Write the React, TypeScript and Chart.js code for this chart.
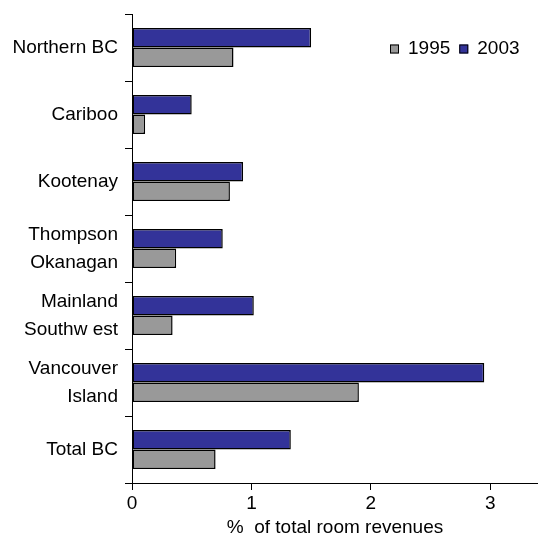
import React, { useEffect, useRef } from 'react';
import { Chart, registerables } from 'chart.js';

Chart.register(...registerables);

const categories: (string | string[])[] = [
  'Northern BC',
  'Cariboo',
  'Kootenay',
  ['Thompson', 'Okanagan'],
  ['Mainland', 'Southw est'],
  ['Vancouver', 'Island'],
  'Total BC',
];
const values1995 = [0.85, 0.11, 0.82, 0.37, 0.34, 1.9, 0.7];
const values2003 = [1.5, 0.5, 0.93, 0.76, 1.02, 2.95, 1.33];
const seriesNames = ['1995', '2003'];
const seriesColors = ['#999999', '#333399'];
const xTickValues = [0, 1, 2, 3];
const xMax = 3.4;
const axisTitle = '%  of total room revenues';

const FONT = '"Liberation Sans", Arial, sans-serif';

const legendPlugin = {
  id: 'insideLegend',
  afterDraw(chart: any) {
    const { ctx, chartArea } = chart;
    ctx.save();
    ctx.font = `19px ${FONT}`;
    ctx.textBaseline = 'middle';
    ctx.textAlign = 'left';
    let x = chartArea.right - 148;
    const cy = chartArea.top + 35;
    seriesNames.forEach((name, i) => {
      ctx.fillStyle = seriesColors[i];
      ctx.fillRect(x, cy - 4.5, 9, 9);
      ctx.strokeStyle = '#000';
      ctx.lineWidth = 1;
      ctx.strokeRect(x + 0.5, cy - 4, 8, 8);
      ctx.fillStyle = '#000';
      ctx.fillText(name, x + 18, cy);
      x += 18 + ctx.measureText(name).width + 9;
    });
    ctx.restore();
  },
};

export default function App() {
  const ref = useRef<HTMLCanvasElement>(null);

  useEffect(() => {
    if (!ref.current) return;
    const chart = new Chart(ref.current, {
      type: 'bar',
      data: {
        labels: categories,
        datasets: [
          {
            label: seriesNames[1],
            data: values2003,
            backgroundColor: seriesColors[1],
            borderColor: '#000',
            borderWidth: 1.5,
            borderSkipped: false,
            categoryPercentage: 0.58,
            barPercentage: 1,
          },
          {
            label: seriesNames[0],
            data: values1995,
            backgroundColor: seriesColors[0],
            borderColor: '#000',
            borderWidth: 1.5,
            borderSkipped: false,
            categoryPercentage: 0.58,
            barPercentage: 1,
          },
        ],
      },
      options: {
        indexAxis: 'y',
        responsive: false,
        maintainAspectRatio: false,
        animation: false,
        layout: { padding: { top: 14, left: 0, right: 0, bottom: 0 } },
        plugins: {
          legend: { display: false },
          tooltip: { enabled: false },
          title: { display: false },
        },
        scales: {
          x: {
            type: 'linear',
            position: 'bottom',
            min: 0,
            max: xMax,
            afterBuildTicks: (axis: any) => {
              axis.ticks = xTickValues.map((v) => ({ value: v }));
            },
            afterFit: (s: any) => {
              s.height = 54;
              s.paddingLeft = 0;
              s.paddingRight = 0;
            },
            grid: {
              drawOnChartArea: false,
              drawTicks: true,
              tickLength: 7,
              color: '#000',
            },
            border: { display: true, color: '#000', width: 1 },
            ticks: {
              color: '#000',
              font: { family: FONT, size: 19 },
              padding: 2,
            },
            title: {
              display: true,
              text: axisTitle,
              color: '#000',
              font: { family: FONT, size: 19, lineHeight: 1 },
              padding: 0,
            },
          },
          y: {
            type: 'category',
            afterFit: (s: any) => {
              s.width = 132;
              s.paddingTop = 0;
              s.paddingBottom = 0;
            },
            grid: {
              drawOnChartArea: false,
              drawTicks: true,
              tickLength: 7,
              color: '#000',
              offset: true,
            },
            border: { display: true, color: '#000', width: 1 },
            ticks: {
              color: '#000',
              font: { family: FONT, size: 19, lineHeight: 1.45 },
              padding: 7,
            },
          },
        },
      },
      plugins: [legendPlugin],
    } as any);
    return () => chart.destroy();
  }, []);

  return (
    <div style={{ position: 'absolute', left: 0, top: 0, width: 538, height: 537, background: '#fff' }}>
      <canvas ref={ref} width={538} height={537} style={{ display: 'block' }} />
    </div>
  );
}
